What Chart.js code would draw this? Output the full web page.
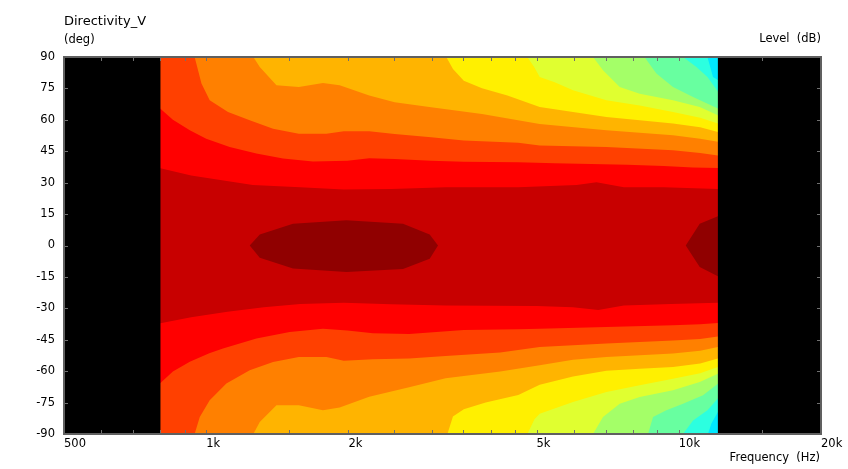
<!DOCTYPE html>
<html>
<head>
<meta charset="utf-8">
<script src="https://cdn.jsdelivr.net/npm/chart.js@4.4.1/dist/chart.umd.min.js"></script>
<style>
html,body{margin:0;padding:0;background:#fff;}
#wrap{width:848px;height:469px;position:relative;}
</style>
</head>
<body>
<div id="wrap"><canvas id="c" width="848" height="469"></canvas></div>
<script>
// ---- axis data ----
const freqMin = 500, freqMax = 20000;
const dataStart = 800, dataEnd = 12100;
const xTickValues = [500,600,700,800,900,1000,1500,2000,2500,3000,3500,4000,4500,5000,6000,7000,8000,9000,10000,15000,20000];
const xLabelValues = [500,1000,2000,5000,10000,20000];
const xLabels = ['500','1k','2k','5k','10k','20k'];
const yTickValues = [90,75,60,45,30,15,0,-15,-30,-45,-60,-75,-90];

// ---- contour boundaries: [frequency Hz, angle deg] ----
const blob1Upper = [[1236,0],[1298,5.2],[1526,10.4],[1980,12],[2609,10.4],[2971,5.2],[3094,0]];
const blob1Lower = [[1298,-5.8],[1526,-11],[1980,-12.6],[2609,-11.2],[2971,-6.3]];
const blob2Upper = [[10346,0],[11075,10.4],[12100,14]];
const blob2Lower = [[11075,-10.3],[12100,-14.7]];

const b2Upper = [[800,36.9],[929,33.4],[1255,28.9],[1581,27.8],[1955,26.7],[2462,27.0],[3211,27.8],[4575,27.8],[6076,28.9],[6698,30.2],[7652,27.8],[9298,27.8],[12100,27.0]];
const b2Lower = [[800,-37.1],[929,-34.3],[1109,-31.6],[1324,-29.5],[1581,-27.9],[1955,-27.3],[2462,-28.1],[3211,-28.6],[5000,-28.9],[5970,-29.5],[6757,-30.8],[7652,-28.6],[9633,-27.9],[12100,-27.3]];

const b3Upper = [[800,65.3],[850,60],[923,55],[1000,51],[1121,47],[1277,43.9],[1454,41.5],[1682,40.1],[1989,40.5],[2213,41.6],[2505,41.3],[2992,40.5],[3508,40.0],[4575,39.7],[5464,39.3],[6525,38.9],[7785,38.5],[9298,38.0],[10713,37.3],[12100,37.0]];
const b3Lower = [[800,-65.7],[850,-60.2],[923,-55.5],[1015,-51.5],[1085,-49.2],[1277,-44.4],[1502,-41.3],[1766,-39.8],[1989,-40.6],[2253,-41.9],[2688,-42.2],[3508,-40.3],[4575,-40.0],[5078,-39.7],[7029,-38.9],[9723,-38.1],[11100,-37.6],[12100,-37.0]];

const b4Upper = [[945,90],[960,84],[977,77.3],[1017,69.3],[1112,63.7],[1236,59.8],[1385,55.8],[1570,53.4],[1796,53.4],[1955,54.5],[2213,54.5],[2505,53.2],[2992,51.7],[3508,50.1],[4575,49.0],[5078,47.8],[7029,47.0],[9723,45.5],[11100,44.2],[12100,43.0]];
const b4Lower = [[945,-90],[969,-81.9],[1017,-73.9],[1103,-65.9],[1236,-59.6],[1385,-55.6],[1570,-53.2],[1796,-53.2],[1955,-55.0],[2253,-54.3],[2688,-53.9],[3211,-52.8],[4190,-51.1],[5078,-48.5],[5973,-47.6],[7029,-46.8],[8267,-46.1],[9723,-45.3],[11100,-44.6],[12100,-43.4]];

const b5Upper = [[1258,90],[1298,85.2],[1408,76.5],[1570,75.7],[1766,77.6],[1916,76.5],[2213,71.6],[2505,68.4],[2992,66],[3834,62.8],[5078,58.0],[7029,55.0],[9723,52.6],[11100,51],[12100,49.5]];
const b5Lower = [[1258,-90],[1298,-84.3],[1408,-76.3],[1570,-76.3],[1766,-78.7],[1916,-77.4],[2213,-72.2],[2688,-67.7],[3211,-63.4],[4190,-60.2],[5078,-57.2],[5973,-54.5],[7029,-53.2],[8267,-52.4],[9723,-51.6],[11100,-50.3],[12100,-48.5]];

const b6Upper = [[3221,90],[3328,84.3],[3508,78.7],[3834,75.1],[4339,71.6],[5078,66.1],[5973,63.7],[7029,61.4],[8267,59.8],[9723,58.2],[11100,56.5],[12100,54.2]];
const b6Lower = [[3239,-90],[3327,-81.7],[3508,-78.2],[3902,-75],[4575,-71.4],[5078,-66.5],[5973,-62.5],[7029,-59.8],[8267,-58.8],[9723,-58],[11100,-56.3],[12100,-54]];

const b7Upper = [[4780,90],[4950,85],[5078,80.5],[5464,78],[5973,74.1],[7029,69.3],[8267,66.9],[9723,63.7],[11100,61],[12100,58.2]];
const b7Lower = [[4783,-90],[4950,-83],[5078,-80.3],[5973,-74.7],[7029,-69.9],[8267,-66.7],[9723,-63.6],[11100,-61],[12100,-58]];

const b8Upper = [[6585,90],[6913,83.7],[7500,75.7],[8267,72.5],[9723,69.3],[11075,66.1],[12100,62.2]];
const b8Lower = [[6585,-90],[6913,-81.9],[7500,-75.5],[8267,-72.3],[9723,-69.1],[11075,-65.2],[12100,-61.2]];

const b9Upper = [[8460,90],[8968,82.1],[9723,75.7],[10721,70.9],[12100,65.4]];
const b9Lower = [[8610,-90],[8822,-81.9],[9416,-78.7],[10210,-75.5],[11255,-71.5],[12100,-66]];

const b10Upper = [[10210,90],[10900,85.2],[11500,80.5],[12100,73.5]];
const b10Lower = [[10210,-90],[10721,-83.5],[11500,-78.7],[12100,-73.1]];

const b11Upper = [[11500,90],[11816,80.5],[12100,79]];
const b11Lower = [[11530,-90],[11725,-85],[12100,-79.5]];

const baseUpper = [[dataStart,90],[dataEnd,90]];
const baseLower = [[dataStart,-90],[dataEnd,-90]];

// no-data regions (drawn black)
const noDataLeft = [freqMin, dataStart];
const noDataRight = [dataEnd, freqMax];

// ---- styling (inner level first) ----
const bands = [
  [blob1Upper, blob1Lower, '#900000'],
  [blob2Upper, blob2Lower, '#900000'],
  [b2Upper, b2Lower, '#C80000'],
  [b3Upper, b3Lower, '#FF0000'],
  [b4Upper, b4Lower, '#FF4000'],
  [b5Upper, b5Lower, '#FF8000'],
  [b6Upper, b6Lower, '#FFB400'],
  [b7Upper, b7Lower, '#FFF000'],
  [b8Upper, b8Lower, '#E0FF30'],
  [b9Upper, b9Lower, '#A4FF68'],
  [b10Upper, b10Lower, '#68FFA0'],
  [b11Upper, b11Lower, '#2CFFE0'],
  [baseUpper, baseLower, '#00E8FF']
];

// closed polygon: upper boundary left->right, lower boundary right->left.
// Edges that touch the data limits are extended under the black no-data masks.
function polygon(upper, lower) {
  const pts = [];
  const uf = upper[0], ul = upper[upper.length - 1];
  const lf = lower[0], ll = lower[lower.length - 1];
  if (uf[1] >= 90 || uf[0] <= dataStart) pts.push({x: freqMin, y: uf[1]});
  upper.forEach(p => pts.push({x: p[0], y: p[1]}));
  if (ul[0] >= dataEnd) pts.push({x: freqMax, y: ul[1]});
  if (ll[0] >= dataEnd) pts.push({x: freqMax, y: ll[1]});
  lower.slice().reverse().forEach(p => pts.push({x: p[0], y: p[1]}));
  if (lf[1] <= -90 || lf[0] <= dataStart) pts.push({x: freqMin, y: lf[1]});
  return pts;
}

function rect(range) {
  return [{x: range[0], y: 90}, {x: range[1], y: 90}, {x: range[1], y: -90}, {x: range[0], y: -90}];
}

const common = {borderColor: 'transparent', borderWidth: 0, pointRadius: 0, fill: 'shape', tension: 0};
const datasets = [
  Object.assign({data: rect(noDataLeft), backgroundColor: '#000000'}, common),
  Object.assign({data: rect(noDataRight), backgroundColor: '#000000'}, common)
].concat(bands.map(b => Object.assign({data: polygon(b[0], b[1]), backgroundColor: b[2]}, common)));

const FONT = 'DejaVu Sans';

const framePlugin = {
  id: 'frame',
  beforeDatasetsDraw(chart) {
    const {ctx, chartArea: a} = chart;
    ctx.save();
    ctx.fillStyle = '#000';
    ctx.fillRect(a.left, a.top, a.right - a.left, a.bottom - a.top);
    ctx.restore();
  },
  afterDatasetsDraw(chart) {
    const {ctx, chartArea: a, scales} = chart;
    ctx.save();
    ctx.strokeStyle = '#707070';
    ctx.lineWidth = 1;
    ctx.beginPath();
    xTickValues.forEach(v => {
      const px = Math.round(scales.x.getPixelForValue(v)) + 0.5;
      ctx.moveTo(px, a.top); ctx.lineTo(px, a.top + 4);
      ctx.moveTo(px, a.bottom); ctx.lineTo(px, a.bottom - 4);
    });
    yTickValues.forEach(v => {
      const py = Math.round(scales.y.getPixelForValue(v)) + 0.5;
      ctx.moveTo(a.left, py); ctx.lineTo(a.left + 4, py);
      ctx.moveTo(a.right, py); ctx.lineTo(a.right - 4, py);
    });
    ctx.stroke();
    ctx.strokeStyle = '#606060';
    ctx.lineWidth = 2;
    ctx.strokeRect(a.left, a.top, a.right - a.left, a.bottom - a.top);
    ctx.restore();
  },
  afterDraw(chart) {
    const {ctx, chartArea: a} = chart;
    ctx.save();
    ctx.fillStyle = '#000';
    ctx.textBaseline = 'middle';
    ctx.textAlign = 'left';
    ctx.font = '13px "' + FONT + '"';
    ctx.fillText('Directivity_V', a.left, 22);
    ctx.font = '11.5px "' + FONT + '"';
    ctx.fillText('(deg)', a.left, 40);
    ctx.textAlign = 'right';
    ctx.fillText('Level  (dB)', a.right, 39);
    ctx.fillText('Frequency  (Hz)', a.right - 1, 458);
    ctx.restore();
  }
};

new Chart(document.getElementById('c').getContext('2d'), {
  type: 'line',
  data: {datasets},
  options: {
    responsive: false,
    animation: false,
    devicePixelRatio: 1,
    layout: {padding: {left: 0, right: 27, top: 57, bottom: 0}},
    plugins: {legend: {display: false}, tooltip: {enabled: false}, title: {display: false}},
    elements: {point: {radius: 0}, line: {tension: 0, borderWidth: 0}},
    scales: {
      x: {
        type: 'logarithmic', min: freqMin, max: freqMax,
        grid: {display: false, drawTicks: false},
        border: {display: false},
        afterBuildTicks: s => { s.ticks = xTickValues.map(v => ({value: v})); },
        afterFit: s => { s.height = 35; },
        ticks: {
          autoSkip: false, maxRotation: 0, minRotation: 0, align: 'start', padding: 3,
          color: '#000', font: {family: FONT, size: 11.5},
          callback: (v) => { const i = xLabelValues.indexOf(v); return i >= 0 ? xLabels[i] : ''; }
        }
      },
      y: {
        type: 'linear', min: -90, max: 90,
        grid: {display: false, drawTicks: false},
        border: {display: false},
        afterBuildTicks: s => { s.ticks = yTickValues.map(v => ({value: v})); },
        afterFit: s => { s.width = 64; },
        ticks: {padding: 9, color: '#000', font: {family: FONT, size: 11.5}, callback: v => String(v)}
      }
    }
  },
  plugins: [framePlugin]
});
</script>
</body>
</html>
